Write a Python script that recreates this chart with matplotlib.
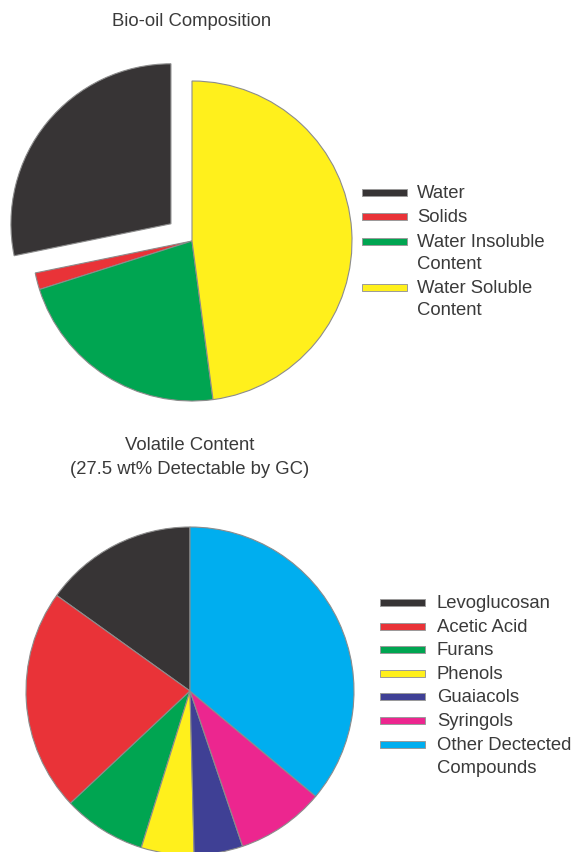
import matplotlib
matplotlib.use("Agg")
import matplotlib.pyplot as plt
from matplotlib.patches import Rectangle

plt.rcParams['font.family'] = ['Liberation Sans', 'DejaVu Sans']

# Bio-oil composition (wt%)
oil_labels = ["Water", "Solids", "Water Insoluble\nContent", "Water Soluble\nContent"]
oil_values = [28.2, 1.7, 22.2, 47.9]
oil_colors = ["#373435", "#e93338", "#00a551", "#fff01c"]

# Volatile content detectable by GC (share of detected fraction, %)
vol_labels = ["Levoglucosan", "Acetic Acid", "Furans", "Phenols", "Guaiacols",
              "Syringols", "Other Dectected\nCompounds"]
vol_values = [15.1, 21.9, 8.2, 5.2, 4.8, 8.7, 36.1]
vol_colors = ["#373435", "#e93338", "#00a551", "#fff01c", "#3f4095",
              "#ec268f", "#00aeef"]

W, H = 582, 853
fig = plt.figure(figsize=(W / 100, H / 100), dpi=100)
TXT = "#3a3a3a"
FS = 13.3


def pie_axes(cx, cy, r, hw, hh):
    """Axes centred on pixel (cx, cy) where radius 1 spans r pixels."""
    ax = fig.add_axes([(cx - hw) / W, 1 - (cy + hh) / H, 2 * hw / W, 2 * hh / H])
    return ax, (-hw / r, hw / r), (-hh / r, hh / r)


wedge_style = dict(edgecolor="#8c8c8c", linewidth=0.8)

# Top pie: water slice pulled out
ax1, xl, yl = pie_axes(192, 242, 160, 190, 200)
ax1.pie(oil_values, colors=oil_colors, startangle=90, counterclock=True,
        explode=[0.17, 0, 0, 0], wedgeprops=wedge_style)
ax1.set_xlim(*xl)
ax1.set_ylim(*yl)
ax1.set_aspect("equal")
ax1.axis("off")

# Bottom pie
ax2, xl, yl = pie_axes(190, 692, 164, 188, 190)
ax2.pie(vol_values, colors=vol_colors, startangle=90, counterclock=True,
        wedgeprops=wedge_style)
ax2.set_xlim(*xl)
ax2.set_ylim(*yl)
ax2.set_aspect("equal")
ax2.axis("off")

# Titles
fig.text(192 / W, 1 - 21 / H, "Bio-oil Composition", ha="center", va="center",
         fontsize=FS, color=TXT)
fig.text(190 / W, 1 - 446 / H, "Volatile Content", ha="center", va="center",
         fontsize=FS, color=TXT)
fig.text(190 / W, 1 - 470 / H, "(27.5 wt% Detectable by GC)", ha="center",
         va="center", fontsize=FS, color=TXT)


def draw_key(labels, colors, x0, y0, step, bar_w, text_x, line_step):
    y = y0
    for lab, col in zip(labels, colors):
        fig.add_artist(Rectangle((x0 / W, 1 - (y + 3.5) / H), bar_w / W, 7 / H,
                                 transform=fig.transFigure, facecolor=col,
                                 edgecolor="#9a9a9a", linewidth=0.7))
        for k, part in enumerate(lab.split("\n")):
            fig.text(text_x / W, 1 - (y + k * line_step) / H, part, ha="left",
                     va="center", fontsize=FS, color=TXT)
        y += step + line_step * lab.count("\n")


draw_key(oil_labels, oil_colors, 362, 193.5, 24.3, 45, 417, 22)
draw_key(vol_labels, vol_colors, 380, 603.5, 23.6, 45, 437, 23.6)

fig.savefig("out.png", dpi=100)
